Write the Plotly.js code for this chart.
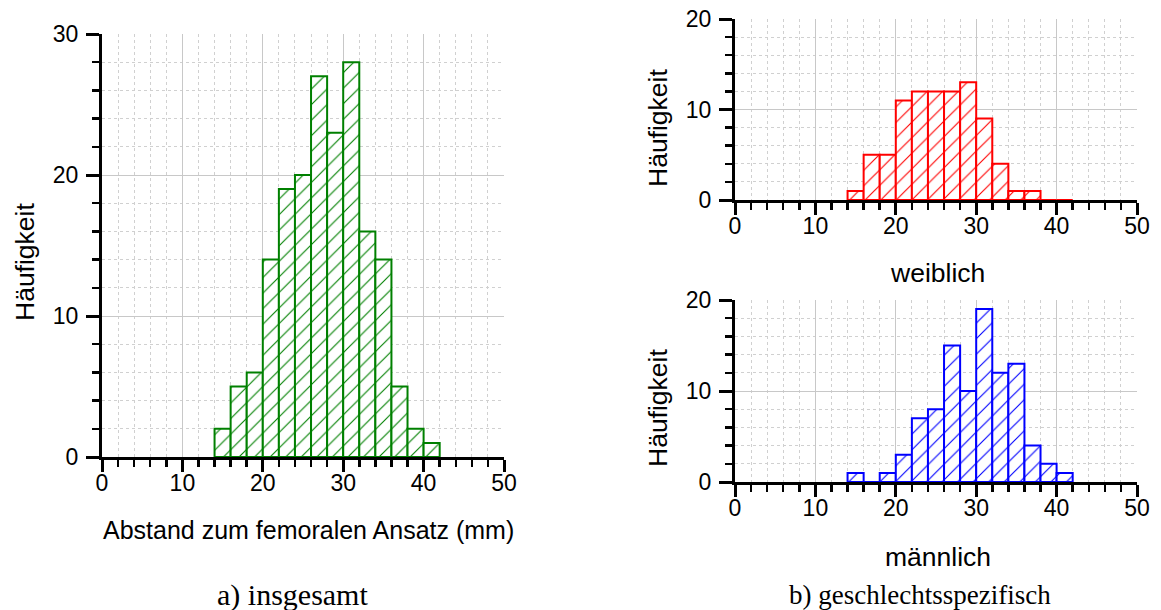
<!DOCTYPE html>
<html>
<head>
<meta charset="utf-8">
<script src="https://cdn.plot.ly/plotly-3.0.1.min.js"></script>
<style>
html, body { margin: 0; padding: 0; background: #fff; }
#chart { width: 1161px; height: 610px; }
</style>
</head>
<body>
<div id="chart"></div>
<script>
// Bin centres (bin width 2 mm)
const binCenters = [15, 17, 19, 21, 23, 25, 27, 29, 31, 33, 35, 37, 39, 41];
// Frequencies
const countsTotal  = [2, 5, 6, 14, 19, 20, 27, 23, 28, 16, 14, 5, 2, 1];
const countsFemale = [1, 5, 5, 11, 12, 12, 12, 13, 9, 4, 1, 1, 0, 0];
const countsMale   = [1, 0, 1, 3, 7, 8, 15, 10, 19, 12, 13, 4, 2, 1];

const xTickVals = [0, 10, 20, 30, 40, 50];
const yTickValsLeft = [0, 10, 20, 30];
const yTickValsRight = [0, 10, 20];

const W = 1161, H = 610;
const px = v => v / W;
const py = v => 1 - v / H;

function barTrace(y, color, xa, ya) {
  return {
    type: 'bar',
    x: binCenters,
    y: y,
    width: 2,
    xaxis: xa, yaxis: ya,
    marker: {
      color: '#ffffff',
      line: { color: color, width: 2 },
      pattern: { shape: '/', fgcolor: color, bgcolor: '#ffffff', size: 11, solidity: 0.1 }
    },
    hoverinfo: 'x+y',
    showlegend: false
  };
}

const tickFont = { family: 'Liberation Sans, Arial, sans-serif', size: 23, color: '#000' };

function xAxis(domain, anchor) {
  return {
    domain: domain, anchor: anchor,
    range: [0, 50], tickvals: xTickVals, ticktext: xTickVals.map(String),
    ticks: 'outside', ticklen: 12, tickwidth: 3, tickcolor: '#000',
    ticklabelstandoff: -9,
    showline: true, linecolor: '#000', linewidth: 3,
    showgrid: true, gridcolor: '#c8c8c8', gridwidth: 1,
    zeroline: false, tickfont: tickFont,
    minor: { dtick: 2, ticks: 'outside', ticklen: 7, tickwidth: 2.5, tickcolor: '#000',
             showgrid: true, gridcolor: '#d0d0d0', griddash: 'dot', gridwidth: 1 },
    fixedrange: true
  };
}
function yAxis(domain, anchor, max, vals) {
  return {
    domain: domain, anchor: anchor,
    range: [0, max], tickvals: vals, ticktext: vals.map(String),
    ticks: 'outside', ticklen: 13, tickwidth: 3, tickcolor: '#000',
    ticklabelstandoff: 3,
    showline: true, linecolor: '#000', linewidth: 3,
    showgrid: true, gridcolor: '#c8c8c8', gridwidth: 1,
    zeroline: false, tickfont: tickFont,
    minor: { dtick: 2, ticks: 'outside', ticklen: 7, tickwidth: 2.5, tickcolor: '#000',
             showgrid: true, gridcolor: '#d0d0d0', griddash: 'dot', gridwidth: 1 },
    fixedrange: true
  };
}

const data = [
  barTrace(countsTotal, '#008000', 'x', 'y'),
  barTrace(countsFemale, '#ff0000', 'x2', 'y2'),
  barTrace(countsMale, '#0000ff', 'x3', 'y3')
];

const sansLong = { family: 'Liberation Sans, Arial, sans-serif', size: 25, color: '#000' };
const sansTitle = { family: 'Liberation Sans, Arial, sans-serif', size: 26.5, color: '#000' };
const serifA = { family: 'Liberation Serif, Times New Roman, serif', size: 30, color: '#000' };
const serifB = { family: 'Liberation Serif, Times New Roman, serif', size: 27, color: '#000' };

function ann(text, x, y, font, angle) {
  return { text: text, xref: 'paper', yref: 'paper', x: px(x), y: py(y),
           xanchor: 'center', yanchor: 'middle', showarrow: false, font: font,
           textangle: angle || 0 };
}

const layout = {
  width: W, height: H,
  margin: { l: 0, r: 0, t: 0, b: 0 },
  paper_bgcolor: '#ffffff', plot_bgcolor: '#ffffff',
  bargap: 0,
  xaxis:  xAxis([px(102), px(504)], 'y'),
  yaxis:  yAxis([py(457), py(34)], 'x', 30, yTickValsLeft),
  xaxis2: xAxis([px(735), px(1137)], 'y2'),
  yaxis2: yAxis([py(200), py(19)], 'x2', 20, yTickValsRight),
  xaxis3: xAxis([px(735), px(1137)], 'y3'),
  yaxis3: yAxis([py(482), py(300)], 'x3', 20, yTickValsRight),
  annotations: [
    ann('Abstand zum femoralen Ansatz (mm)', 308, 530, sansLong),
    ann('Häufigkeit', 25, 262, sansTitle, -90),
    ann('Häufigkeit', 658, 128, sansTitle, -90),
    ann('Häufigkeit', 658, 408, sansTitle, -90),
    ann('weiblich', 937, 273, sansTitle),
    ann('männlich', 938, 557, sansTitle),
    ann('a) insgesamt', 292, 595, serifA),
    ann('b) geschlechtsspezifisch', 920, 595, serifB)
  ]
};

Plotly.newPlot('chart', data, layout, { displayModeBar: false, staticPlot: true });
</script>
</body>
</html>
